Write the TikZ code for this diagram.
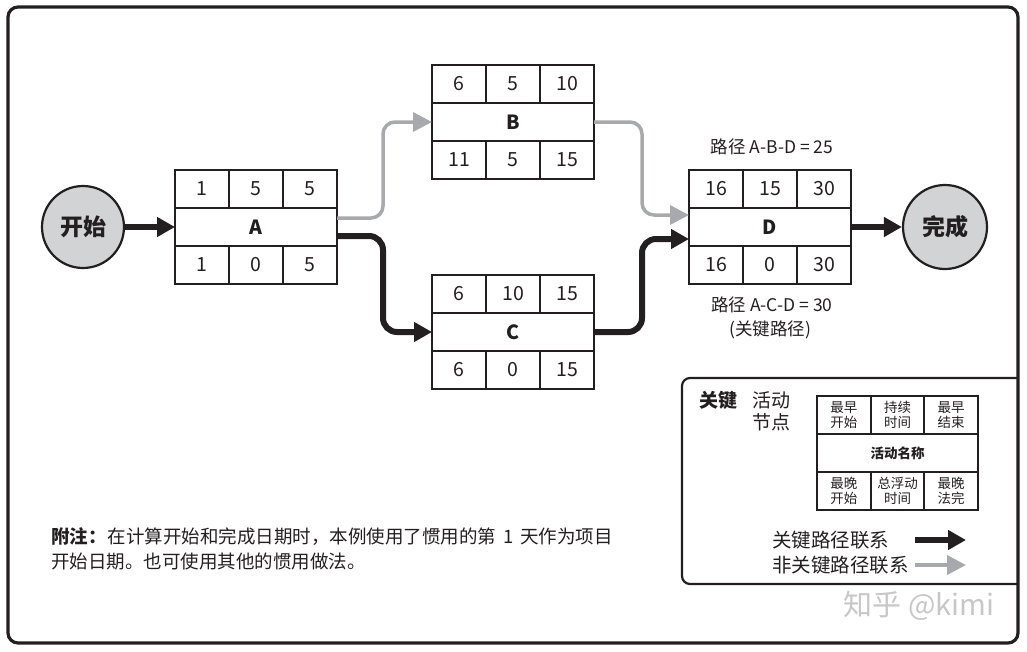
\documentclass[tikz,border=0pt]{standalone}
\usepackage{fontspec}
\setmainfont{Noto Sans CJK SC}
\usetikzlibrary{arrows.meta,positioning}
\definecolor{ink}{HTML}{231F20}
\definecolor{lgray}{HTML}{A7A9AC}
\definecolor{cfill}{HTML}{D1D3D4}
\tikzset{
  cell/.style={draw=ink, line width=2.2pt, minimum width=54pt, minimum height=38pt,
    inner sep=0pt, outer sep=0pt, align=center, text=ink, font=\fontsize{19.5}{21}\selectfont},
  midcell/.style={cell, minimum width=162pt, font=\fontsize{19.5}{21}\selectfont\bfseries},
  evt/.style={circle, draw=ink, line width=2.2pt, fill=cfill, minimum size=82pt,
    inner sep=0pt, text=ink, font=\fontsize{23}{25}\selectfont\bfseries},
  crit/.style={draw=ink, line width=6pt, rounded corners=14pt, -{Triangle[length=18pt,width=19pt]}},
  noncrit/.style={draw=lgray, line width=3.5pt, rounded corners=12pt, -{Triangle[length=19pt,width=19pt]}},
  lab/.style={text=ink, inner sep=0pt, font=\fontsize{17.5}{22}\selectfont},
}
\newcommand\actbox[9]{%
  \node[midcell] (#1) at (#2) {#9};
  \node[cell, above=0pt of #1] (#1t2) {#4};
  \node[cell, left=0pt of #1t2] (#1t1) {#3};
  \node[cell, right=0pt of #1t2] (#1t3) {#5};
  \node[cell, below=0pt of #1] (#1b2) {#7};
  \node[cell, left=0pt of #1b2] (#1b1) {#6};
  \node[cell, right=0pt of #1b2] (#1b3) {#8};
}
\begin{document}
\begin{tikzpicture}[x=1pt,y=-1pt]
\useasboundingbox (0,0) rectangle (1027,651);
% outer frame
\draw[ink, line width=3.2pt, rounded corners=10pt] (8,7) rectangle (1018,643);

% events
\node[evt] (start) at (83,227) {开始};
\node[evt, minimum size=84pt] (finish) at (945,227) {完成};

% activities
\actbox{A}{256,227}{1}{5}{5}{1}{0}{5}{A}
\actbox{B}{513,122}{6}{5}{10}{11}{5}{15}{B}
\actbox{C}{513,332}{6}{10}{15}{6}{0}{15}{C}
\actbox{D}{770,227}{16}{15}{30}{16}{0}{30}{D}

% connectors
\draw[noncrit] ([yshift=9pt]A.east) -- ++(46,0) |- (B.west);
\draw[crit] ([yshift=-9pt]A.east) -- ++(46,0) |- (C.west);
\draw[noncrit] (B.east) -- ++(48,0) |- ([yshift=12pt]D.west);
\draw[crit] (C.east) -- ++(48,0) |- ([yshift=-12pt]D.west);
\draw[crit] (start.east) -- (A.west);
\draw[crit] (D.east) -- (finish.west);

% path labels
\node[lab] (l1) at (772,147) {路径 A-B-D = 25};
\node[lab] (l2) at (772,305) {路径 A-C-D = 30};
\node[lab] (l3) at (770,330) {(关键路径)};

% note
\node[anchor=west, align=left, text=ink, inner sep=0pt, font=\fontsize{18.5}{25}\selectfont] (note) at (51,549)
  {\textbf{附注：}\hspace{1pt}在计算开始和完成日期时，本例使用了惯用的第\hspace{7pt}1\hspace{7pt}天作为项目\\开始日期。也可使用其他的惯用做法。};

% legend
\draw[ink, line width=2.2pt, rounded corners=8pt] (1018,378) -- (682,378) -- (682,584) -- (1018,584);
\node[text=ink, font=\fontsize{19}{21}\selectfont\bfseries] (key) at (718,400) {关键};
\node[text=ink, align=center, inner sep=0pt, font=\fontsize{19}{22}\selectfont] (kact) at (771,411) {活动\\节点};
\begin{scope}[cell/.append style={minimum width=53.7pt, font=\fontsize{13.5}{15}\selectfont},
              midcell/.append style={minimum width=161pt, font=\fontsize{13.5}{15}\selectfont\bfseries}]
\actbox{K}{897.5,453}{最早\\开始}{持续\\时间}{最早\\结束}{最晚\\开始}{总浮动\\时间}{最晚\\法完}{活动名称}
\end{scope}
\node[lab, anchor=west, font=\fontsize{19.5}{22}\selectfont] (kc) at (772,540) {关键路径联系};
\node[lab, anchor=west, font=\fontsize{19.5}{22}\selectfont] (kn) at (772,565) {非关键路径联系};
\coordinate (kcs) at (915,540);
\coordinate (kce) at (966,540);
\coordinate (kns) at (915,565);
\coordinate (kne) at (966,565);
\draw[crit] (kcs) -- (kce);
\draw[noncrit, line width=4pt] (kns) -- (kne);

% watermark
\node[text=black!22, font=\fontsize{29}{32}\selectfont] (wm) at (919,606) {知乎 @kimi};
\end{tikzpicture}
\end{document}
